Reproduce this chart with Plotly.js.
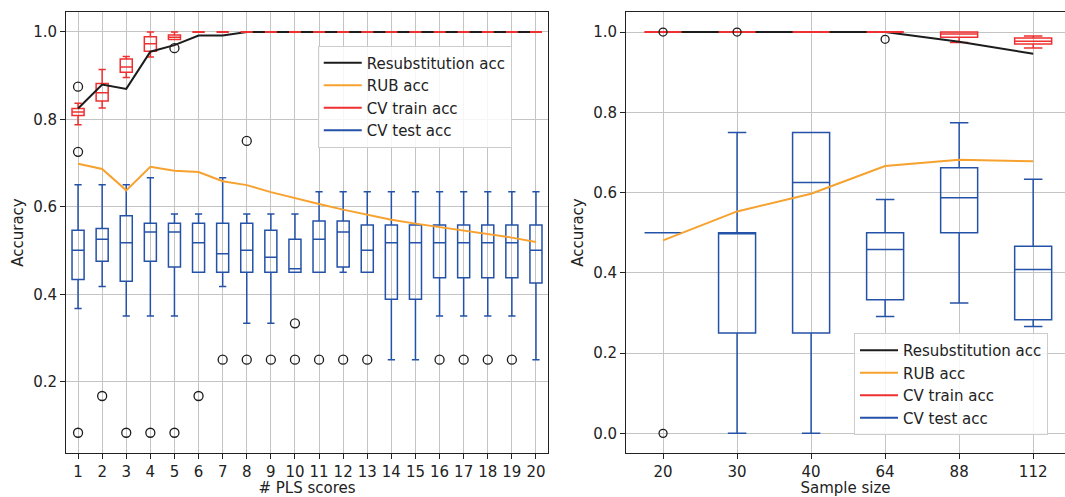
<!DOCTYPE html>
<html><head><meta charset="utf-8">
<script src="https://cdn.plot.ly/plotly-3.0.1.min.js"></script>
<style>html,body{margin:0;padding:0;background:#fff}#chart{width:1065px;height:497px}</style>
</head><body><div id="chart"></div>
<script>
// ---------- Left panel: accuracy vs number of PLS scores ----------
const plsScores = [1,2,3,4,5,6,7,8,9,10,11,12,13,14,15,16,17,18,19,20];
const resubAccPLS = [0.825,0.880,0.870,0.955,0.970,0.992,0.992,1,1,1,1,1,1,1,1,1,1,1,1,1];
const rubAccPLS = [0.699,0.687,0.638,0.692,0.683,0.680,0.659,0.650,0.634,0.620,0.607,0.594,0.583,0.571,0.562,0.554,0.545,0.537,0.530,0.520];
// CV train accuracy box statistics
const trainLowPLS  = [0.788,0.826,0.896,0.943,0.983,1,1,1,1,1,1,1,1,1,1,1,1,1,1,1];
const trainQ1PLS   = [0.809,0.842,0.908,0.956,0.983,1,1,1,1,1,1,1,1,1,1,1,1,1,1,1];
const trainMedPLS  = [0.817,0.861,0.920,0.973,0.988,1,1,1,1,1,1,1,1,1,1,1,1,1,1,1];
const trainQ3PLS   = [0.825,0.882,0.938,0.989,0.993,1,1,1,1,1,1,1,1,1,1,1,1,1,1,1];
const trainHighPLS = [0.837,0.914,0.944,1,1,1,1,1,1,1,1,1,1,1,1,1,1,1,1,1];
// CV test accuracy box statistics
const testLowPLS  = [0.368,0.418,0.351,0.351,0.351,0.451,0.418,0.334,0.334,0.451,0.451,0.451,0.451,0.251,0.251,0.351,0.351,0.351,0.351,0.251];
const testQ1PLS   = [0.434,0.476,0.430,0.476,0.463,0.451,0.451,0.451,0.451,0.451,0.451,0.463,0.451,0.389,0.389,0.438,0.438,0.438,0.438,0.426];
const testMedPLS  = [0.501,0.526,0.518,0.543,0.543,0.518,0.493,0.501,0.485,0.459,0.526,0.543,0.501,0.518,0.518,0.518,0.518,0.518,0.518,0.501];
const testQ3PLS   = [0.547,0.551,0.580,0.563,0.563,0.563,0.563,0.563,0.547,0.526,0.568,0.568,0.559,0.559,0.559,0.559,0.559,0.559,0.559,0.559];
const testHighPLS = [0.651,0.651,0.651,0.667,0.584,0.584,0.667,0.584,0.584,0.584,0.635,0.635,0.635,0.635,0.635,0.635,0.635,0.635,0.635,0.635];
// outliers (fliers)
const flierXPLS = [1,1,1,2,3,4,5,5,6,7,8,8,9,10,10,11,12,13,16,17,18,19];
const flierYPLS = [0.875,0.726,0.084,0.168,0.084,0.084,0.963,0.084,0.168,0.251,0.751,0.251,0.251,0.334,0.251,0.251,0.251,0.251,0.251,0.251,0.251,0.251];

// ---------- Right panel: accuracy vs sample size ----------
const sampleSizes = ['20','30','40','64','88','112'];
const resubAccN = [1,1,1,1,0.976,0.946];
const rubAccN = [0.481,0.553,0.597,0.666,0.682,0.678];
const trainLowN  = [1,1,1,1,0.974,0.960];
const trainQ1N   = [1,1,1,1,0.987,0.970];
const trainMedN  = [1,1,1,1,0.995,0.977];
const trainQ3N   = [1,1,1,1,1.000,0.985];
const trainHighN = [1,1,1,1,1.000,0.990];
const testLowN  = [0.5,0.00,0.00,0.291,0.325,0.266];
const testQ1N   = [0.5,0.25,0.25,0.333,0.500,0.283];
const testMedN  = [0.5,0.50,0.625,0.458,0.587,0.408];
const testQ3N   = [0.5,0.50,0.75,0.500,0.662,0.466];
const testHighN = [0.5,0.75,0.75,0.583,0.774,0.633];
const flierIdxN = [1,1,2,4];
const flierYN = [1.0,0.0,1.0,0.982];

// ---------- styling ----------
const C_BLACK = '#1c1c1c', C_ORANGE = '#f7a12e', C_RED = '#ee3030', C_BLUE = '#2452a8';
const FONT = 'DejaVu Sans, sans-serif';
const BOXW = 0.5;
const posN = sampleSizes.map((s,i)=>i+1);

function boxTrace(x, lo, q1, med, q3, hi, color, xa, ya, ww){
  return {type:'box', x:x, lowerfence:lo, q1:q1, median:med, q3:q3, upperfence:hi,
    width:BOXW, whiskerwidth:ww, fillcolor:'rgba(0,0,0,0)', boxpoints:false,
    line:{color:color, width:1.5}, xaxis:xa, yaxis:ya, showlegend:false, hoverinfo:'skip'};
}
// red overlay for degenerate (all-equal) train boxes so they sit above the black line
function flatSegments(x, lo, hi){
  const xs=[], ys=[];
  x.forEach((v,i)=>{ if(lo[i]===hi[i]){ xs.push(v-BOXW/2, v+BOXW/2, null); ys.push(lo[i], lo[i], null);} });
  return {xs, ys};
}
const flatL = flatSegments(plsScores, trainLowPLS, trainHighPLS);
const flatR = flatSegments(posN, trainLowN, trainHighN);

function legendDummies(leg){
  const names=['Resubstitution acc','RUB acc','CV train acc','CV test acc'];
  const cols=[C_BLACK,C_ORANGE,C_RED,C_BLUE];
  return names.map((n,i)=>({type:'scatter', mode:'lines', x:[null], y:[null], name:n,
    line:{color:cols[i], width:2}, legend:leg, xaxis: leg==='legend'?'x':'x2', yaxis: leg==='legend'?'y':'y2', hoverinfo:'skip'}));
}

const data = [
  boxTrace(plsScores, trainLowPLS, trainQ1PLS, trainMedPLS, trainQ3PLS, trainHighPLS, C_RED, 'x','y',0.6),
  boxTrace(plsScores, testLowPLS, testQ1PLS, testMedPLS, testQ3PLS, testHighPLS, C_BLUE, 'x','y',0.6),
  {type:'scatter', mode:'lines', x:plsScores, y:resubAccPLS, line:{color:C_BLACK,width:2}, showlegend:false, xaxis:'x', yaxis:'y'},
  {type:'scatter', mode:'lines', x:plsScores, y:rubAccPLS, line:{color:C_ORANGE,width:2}, showlegend:false, xaxis:'x', yaxis:'y'},
  {type:'scatter', mode:'lines', x:flatL.xs, y:flatL.ys, line:{color:C_RED,width:2}, showlegend:false, xaxis:'x', yaxis:'y', connectgaps:false},
  {type:'scatter', mode:'markers', x:flierXPLS, y:flierYPLS, marker:{symbol:'circle-open', size:9, color:C_BLACK, line:{width:1.3, color:C_BLACK}}, showlegend:false, xaxis:'x', yaxis:'y'},

  boxTrace(posN, trainLowN, trainQ1N, trainMedN, trainQ3N, trainHighN, C_RED, 'x2','y2',0.5),
  boxTrace(posN, testLowN, testQ1N, testMedN, testQ3N, testHighN, C_BLUE, 'x2','y2',0.5),
  {type:'scatter', mode:'lines', x:posN, y:resubAccN, line:{color:C_BLACK,width:2}, showlegend:false, xaxis:'x2', yaxis:'y2'},
  {type:'scatter', mode:'lines', x:posN, y:rubAccN, line:{color:C_ORANGE,width:2}, showlegend:false, xaxis:'x2', yaxis:'y2'},
  {type:'scatter', mode:'lines', x:flatR.xs, y:flatR.ys, line:{color:C_RED,width:2}, showlegend:false, xaxis:'x2', yaxis:'y2', connectgaps:false},
  {type:'scatter', mode:'markers', x:flierIdxN, y:flierYN, marker:{symbol:'circle-open', size:8, color:C_BLACK, line:{width:1.3, color:C_BLACK}}, showlegend:false, xaxis:'x2', yaxis:'y2'},
].concat(legendDummies('legend'), legendDummies('legend2'));

const axisCommon = {showline:true, mirror:true, linecolor:'#222', linewidth:1, ticks:'outside', ticklen:5, tickwidth:1, tickcolor:'#222',
  showgrid:true, gridcolor:'#c4c4c4', gridwidth:1, zeroline:false, tickfont:{family:FONT,size:15,color:'#222'}};

const layout = {
  width:1065, height:497, paper_bgcolor:'#fff', plot_bgcolor:'#fff',
  margin:{l:66, r:0, t:12, b:44},
  font:{family:FONT, size:15, color:'#222'},
  boxmode:'overlay',
  xaxis: Object.assign({}, axisCommon, {domain:[0,0.4825], range:[0.5,20.5], tickvals:plsScores, ticktext:plsScores.map(String),
    title:{text:'# PLS scores', font:{family:FONT,size:15,color:'#222'}, standoff:6}, automargin:false}),
  yaxis: Object.assign({}, axisCommon, {range:[0.0377,1.0457], tickvals:[0.2,0.4,0.6,0.8,1.0], tickformat:'.1f',
    title:{text:'Accuracy', font:{family:FONT,size:15,color:'#222'}, standoff:5}, automargin:false}),
  xaxis2: Object.assign({}, axisCommon, {domain:[0.5606,1], range:[0.5,6.43], tickvals:posN, ticktext:sampleSizes, anchor:'y2',
    title:{text:'Sample size', font:{family:FONT,size:15,color:'#222'}, standoff:6}, automargin:false}),
  yaxis2: Object.assign({}, axisCommon, {range:[-0.049,1.05], tickvals:[0,0.2,0.4,0.6,0.8,1.0], tickformat:'.1f', anchor:'x2',
    title:{text:'Accuracy', font:{family:FONT,size:15,color:'#222'}, standoff:5}, automargin:false}),
  legend:{x:0.252, y:0.924, xanchor:'left', yanchor:'top', bgcolor:'rgba(255,255,255,0.85)', bordercolor:'#cccccc', borderwidth:1,
    font:{family:FONT,size:15,color:'#222'}, traceorder:'normal', tracegroupgap:0, itemwidth:38},
  legend2:{x:0.7888, y:0.272, xanchor:'left', yanchor:'top', bgcolor:'rgba(255,255,255,0.85)', bordercolor:'#cccccc', borderwidth:1,
    font:{family:FONT,size:15,color:'#222'}, traceorder:'normal', tracegroupgap:0, itemwidth:38},
  showlegend:true
};

Plotly.newPlot('chart', data, layout, {staticPlot:true, displayModeBar:false});
</script></body></html>
